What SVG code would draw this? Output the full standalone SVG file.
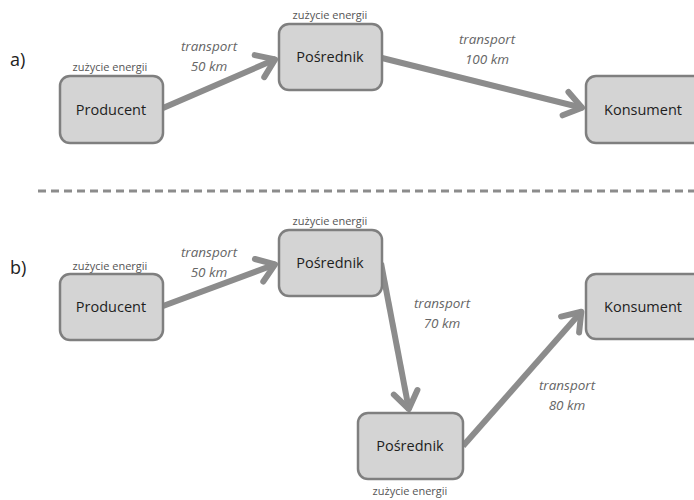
<svg xmlns="http://www.w3.org/2000/svg" width="694" height="500" viewBox="0 0 694 500">
<defs>
<style>
.box{fill:#d4d4d4;stroke:#7f7f7f;stroke-width:2.5}
.lbl{font-family:"Open Sans","Liberation Sans",sans-serif;font-size:14.5px;fill:#1e1e1e;text-anchor:middle}
.en{font-family:"Open Sans","Liberation Sans",sans-serif;font-size:11px;fill:#555;text-anchor:middle}
.tr{font-family:"Open Sans","Liberation Sans",sans-serif;font-size:13.5px;font-style:italic;fill:#666;text-anchor:middle}
.sec{font-family:"Open Sans","Liberation Sans",sans-serif;font-size:18px;fill:#222}
.arr{stroke:#8c8c8c;stroke-width:6;fill:none;marker-end:url(#ah)}
</style>
<marker id="ah" markerUnits="userSpaceOnUse" viewBox="-22 -16 26 32" markerWidth="26" markerHeight="32" refX="0" refY="0" orient="auto" overflow="visible">
<path d="M-18,-12 L-1,0 L-18,12" fill="none" stroke="#8c8c8c" stroke-width="6" stroke-linecap="round" stroke-linejoin="round"/>
</marker>
</defs>
<rect width="694" height="500" fill="#fff"/>
<text class="sec" x="10" y="66">a)</text>
<text class="sec" x="10" y="274">b)</text>
<line x1="38" y1="191" x2="694" y2="191" stroke="#8c8c8c" stroke-width="3" stroke-dasharray="8,5"/>
<g id="connectors">
<line class="arr" x1="163" y1="108" x2="276" y2="59"/>
<line class="arr" x1="382" y1="58" x2="583" y2="108"/>
<line class="arr" x1="163" y1="306" x2="276" y2="264"/>
<line class="arr" x1="381" y1="263" x2="409" y2="410"/>
<line class="arr" x1="463" y1="446" x2="582" y2="311"/>
</g>
<g id="a-producent">
<rect class="box" x="60" y="76" width="103" height="67" rx="10"/>
<text class="lbl" x="111" y="115">Producent</text>
<text class="en" x="110" y="71">zużycie energii</text>
</g>
<g id="a-posrednik">
<rect class="box" x="279" y="24" width="103" height="66" rx="10"/>
<text class="lbl" x="330" y="62">Pośrednik</text>
<text class="en" x="330" y="19">zużycie energii</text>
</g>
<g id="a-konsument">
<rect class="box" x="586" y="76" width="120" height="67" rx="10"/>
<text class="lbl" x="643" y="115">Konsument</text>
</g>
<g id="a-labels">
<text class="tr" x="209" y="51">transport</text>
<text class="tr" x="209" y="71">50 km</text>
<text class="tr" x="487" y="44">transport</text>
<text class="tr" x="487" y="64">100 km</text>
</g>
<g id="b-producent">
<rect class="box" x="60" y="274" width="103" height="66" rx="10"/>
<text class="lbl" x="111" y="312">Producent</text>
<text class="en" x="110" y="270">zużycie energii</text>
</g>
<g id="b-posrednik1">
<rect class="box" x="279" y="230" width="103" height="66" rx="10"/>
<text class="lbl" x="330" y="268">Pośrednik</text>
<text class="en" x="330" y="225">zużycie energii</text>
</g>
<g id="b-konsument">
<rect class="box" x="586" y="274" width="120" height="65" rx="10"/>
<text class="lbl" x="643" y="312">Konsument</text>
</g>
<g id="b-posrednik2">
<rect class="box" x="358" y="413" width="105" height="66" rx="10"/>
<text class="lbl" x="410" y="451">Pośrednik</text>
<text class="en" x="410" y="495">zużycie energii</text>
</g>
<g id="b-labels">
<text class="tr" x="209" y="257">transport</text>
<text class="tr" x="209" y="277">50 km</text>
<text class="tr" x="442" y="308">transport</text>
<text class="tr" x="442" y="328">70 km</text>
<text class="tr" x="567" y="390">transport</text>
<text class="tr" x="567" y="410">80 km</text>
</g>
</svg>
